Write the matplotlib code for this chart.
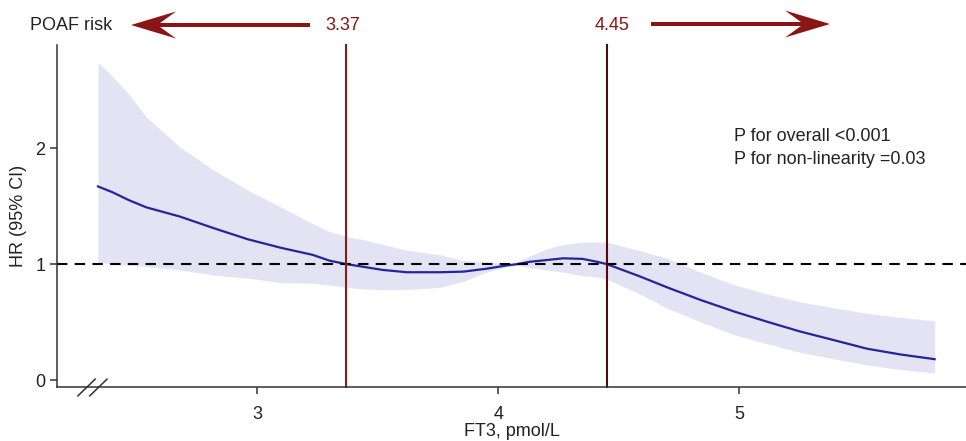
import matplotlib
matplotlib.use("Agg")
import matplotlib.pyplot as plt
from matplotlib.patches import Polygon

# --- data ---
ft3 = [2.34, 2.40, 2.47, 2.54, 2.68, 2.82, 2.96, 3.10, 3.23, 3.30, 3.37, 3.44,
       3.52, 3.62, 3.76, 3.855, 3.95, 4.04, 4.08, 4.13, 4.20, 4.27, 4.35, 4.41,
       4.45, 4.58, 4.70, 4.84, 4.98, 5.12, 5.25, 5.40, 5.53, 5.67, 5.81]
hr = [1.67, 1.62, 1.55, 1.49, 1.41, 1.31, 1.215, 1.14, 1.08, 1.03, 1.00, 0.977,
      0.95, 0.93, 0.93, 0.935, 0.96, 0.99, 1.00, 1.02, 1.035, 1.05, 1.045, 1.02,
      1.00, 0.90, 0.80, 0.69, 0.59, 0.50, 0.42, 0.34, 0.27, 0.22, 0.18]
hr_upper = [2.74, 2.62, 2.46, 2.27, 2.01, 1.81, 1.64, 1.49, 1.35, 1.28, 1.24, 1.21,
            1.17, 1.12, 1.08, 1.03, 1.02, 1.00, 1.02, 1.07, 1.13, 1.17, 1.19, 1.19,
            1.19, 1.12, 1.05, 0.93, 0.82, 0.74, 0.675, 0.62, 0.575, 0.54, 0.51]
hr_lower = [1.02, 1.00, 0.99, 0.98, 0.95, 0.905, 0.88, 0.84, 0.835, 0.82, 0.80, 0.785,
            0.78, 0.78, 0.80, 0.85, 0.93, 0.98, 0.99, 0.97, 0.95, 0.93, 0.90, 0.89,
            0.87, 0.75, 0.62, 0.50, 0.39, 0.31, 0.24, 0.18, 0.13, 0.09, 0.06]
cutoffs = [3.37, 4.45]
cutoff_labels = ["3.37", "4.45"]
x_ticks = [3, 4, 5]
y_ticks = [0, 1, 2]
stats_text = "P for overall <0.001\nP for non-linearity =0.03"

# --- styling ---
W, H = 966, 441
DARK_RED = "#8b1414"
LINE_COLORS = ["#8b1a1a", "#4a0c0c"]
CURVE = "#25259a"
BAND = "#e3e3f3"
AXIS = "#333333"
TEXT = "#222222"
FS = 13

plt.rcParams["font.family"] = ["Liberation Sans", "DejaVu Sans"]


def fig_xy(px, py):
    """Pixel position (from top-left) to figure fraction."""
    return px / W, 1 - py / H


def draw_arrow(fig, tail_x, tip_x, y):
    d = 1 if tail_x > tip_x else -1
    pts = [(tip_x, y), (tip_x + d * 45, y - 13.5), (tip_x + d * 29, y - 2),
           (tail_x, y - 2), (tail_x, y + 2), (tip_x + d * 29, y + 2),
           (tip_x + d * 45, y + 13.5)]
    pts = [fig_xy(px, py) for px, py in pts]
    fig.patches.append(Polygon(pts, closed=True, transform=fig.transFigure,
                               facecolor=DARK_RED, edgecolor="none"))


fig = plt.figure(figsize=(W / 100, H / 100), dpi=100)
ax = fig.add_axes([57 / W, 1 - 387 / H, 909 / W, 342 / H])

ax.fill_between(ft3, hr_lower, hr_upper, color=BAND, linewidth=0)
ax.plot(ft3, hr, color=CURVE, lw=1.6)
ax.axhline(1, color="black", lw=1.5, ls=(0, (5, 3.5)))
for c, col in zip(cutoffs, LINE_COLORS):
    ax.axvline(c, color=col, lw=1.5, clip_on=False)

ax.set_xlim(2.17, 5.94)
ax.set_ylim(-0.06, 2.89)
ax.set_xticks(x_ticks)
ax.set_yticks(y_ticks)
ax.tick_params(labelsize=FS, length=5, width=1.1, color=AXIS, labelcolor=TEXT)
ax.tick_params(axis="x", pad=9)
for s in ["top", "right"]:
    ax.spines[s].set_visible(False)
for s in ["left", "bottom"]:
    ax.spines[s].set_color(AXIS)
    ax.spines[s].set_linewidth(1.1)

ax.set_xlabel("FT3, pmol/L", fontsize=FS, color=TEXT, labelpad=0)
ax.set_ylabel("HR (95% CI)", fontsize=FS, color=TEXT, labelpad=6)

# axis break marks
for x0 in [0.023, 0.036]:
    ax.plot([x0, x0 + 0.019], [-0.026, 0.023], transform=ax.transAxes,
            color=AXIS, lw=1.1, clip_on=False)

ax.text(0.745, 0.70, stats_text, transform=ax.transAxes, fontsize=FS,
        color=TEXT, va="center", ha="left", linespacing=1.45)

# header: risk arrows and cut-off labels
fig.text(*fig_xy(30, 25), "POAF risk", fontsize=FS, color=TEXT, va="center", ha="left")
fig.text(*fig_xy(343, 25), cutoff_labels[0], fontsize=FS, color=DARK_RED, va="center", ha="center")
fig.text(*fig_xy(612, 25), cutoff_labels[1], fontsize=FS, color=DARK_RED, va="center", ha="center")
draw_arrow(fig, 310, 131, 25)
draw_arrow(fig, 651, 830, 24)

fig.savefig("out.png", dpi=100)
